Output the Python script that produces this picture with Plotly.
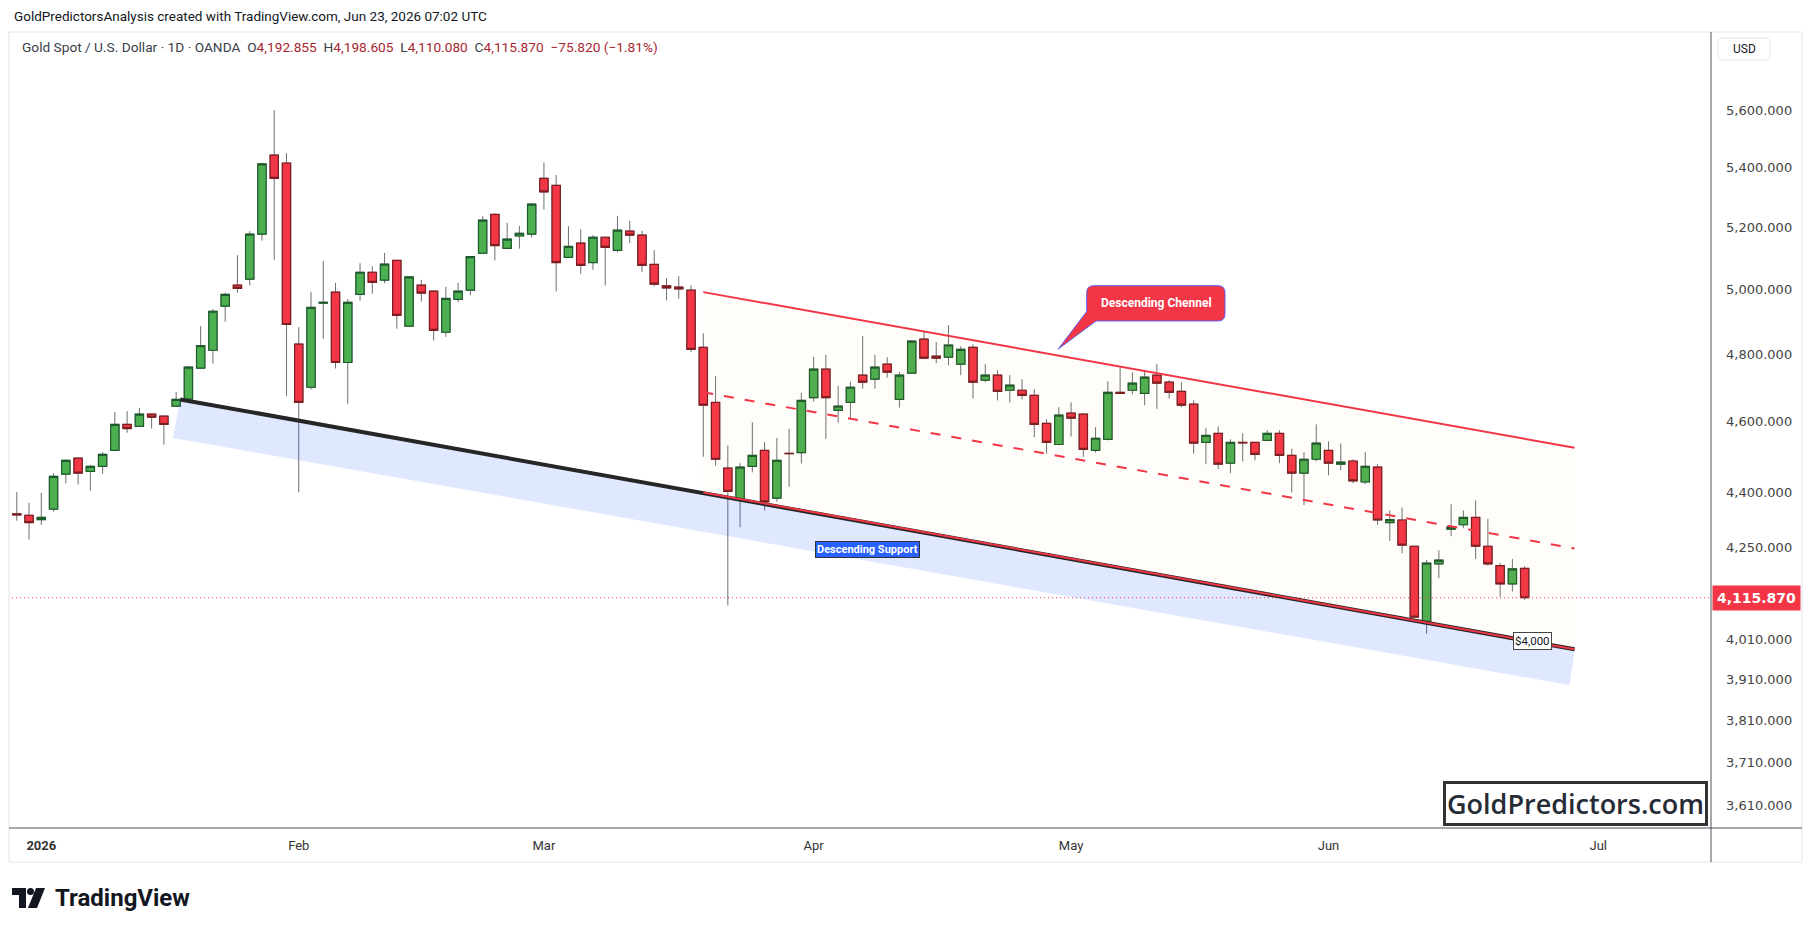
import numpy as np
import pandas as pd
import plotly.graph_objects as go

# ---------------- data ----------------
dates = pd.bdate_range("2025-12-30", "2026-06-23", freq="C",
                       holidays=["2026-01-01", "2026-04-03"])

open_ = [4340, 4336, 4324, 4353, 4450, 4495, 4458, 4472, 4517, 4592,
         4586, 4622, 4616, 4645, 4666, 4758, 4812, 4948, 5014, 5033,
         5178, 5443, 5416, 4831, 4701, 4957, 4992, 4775, 4985, 5055,
         5030, 5093, 4886, 5014, 4995, 4867, 4969, 4998, 5116, 5243,
         5132, 5172, 5178, 5364, 5340, 5103, 5149, 5086, 5168, 5125,
         5188, 5175, 5080, 5012, 5008, 4998, 4821, 4656, 4467, 4377,
         4472, 4517, 4383, 4509, 4511, 4670, 4755, 4633, 4656, 4737,
         4725, 4770, 4665, 4743, 4846, 4794, 4791, 4770, 4821, 4722,
         4737, 4692, 4692, 4677, 4595, 4534, 4625, 4622, 4517, 4549,
         4686, 4692, 4683, 4737, 4716, 4689, 4651, 4540, 4566, 4481,
         4540, 4540, 4546, 4566, 4503, 4453, 4492, 4517, 4478, 4487,
         4428, 4470, 4316, 4323, 4252, 4055, 4205, 4298, 4310, 4330,
         4252, 4200, 4152, 4192.855]
high = [4400, 4370, 4398, 4453, 4492, 4497, 4476, 4512, 4628, 4631,
        4640, 4623, 4617, 4687, 4765, 4886, 4939, 4990, 5110, 5188,
        5417, 5600, 5450, 4883, 4993, 5091, 5021, 4970, 5084, 5074,
        5117, 5094, 5043, 5031, 4998, 5009, 5021, 5106, 5237, 5246,
        5215, 5205, 5280, 5417, 5375, 5204, 5194, 5175, 5169, 5238,
        5222, 5189, 5126, 5036, 5043, 5014, 4864, 4734, 4531, 4481,
        4598, 4541, 4553, 4579, 4684, 4792, 4798, 4705, 4717, 4856,
        4798, 4791, 4746, 4843, 4871, 4837, 4889, 4824, 4830, 4770,
        4752, 4737, 4725, 4695, 4607, 4642, 4656, 4625, 4584, 4719,
        4761, 4746, 4749, 4771, 4722, 4716, 4662, 4581, 4586, 4549,
        4566, 4541, 4575, 4575, 4522, 4512, 4592, 4543, 4537, 4492,
        4512, 4478, 4349, 4357, 4253, 4215, 4241, 4366, 4349, 4377,
        4326, 4207, 4218, 4198.605]
low = [4321, 4270, 4309, 4346, 4424, 4421, 4404, 4451, 4516, 4568,
       4586, 4580, 4533, 4644, 4658, 4755, 4772, 4900, 4990, 5013,
       5157, 5095, 4675, 4399, 4694, 4847, 4757, 4652, 4965, 4987,
       5020, 4878, 4886, 4962, 4842, 4853, 4960, 4982, 5115, 5093,
       5129, 5131, 5167, 5259, 4994, 5103, 5050, 5063, 5013, 5119,
       5149, 5055, 5010, 4966, 4971, 4806, 4499, 4474, 4096, 4303,
       4455, 4349, 4373, 4415, 4480, 4659, 4550, 4597, 4606, 4697,
       4697, 4730, 4641, 4743, 4785, 4773, 4767, 4737, 4668, 4716,
       4662, 4656, 4665, 4555, 4508, 4534, 4557, 4499, 4511, 4546,
       4683, 4680, 4648, 4637, 4668, 4642, 4508, 4478, 4464, 4453,
       4486, 4489, 4545, 4481, 4399, 4364, 4486, 4447, 4461, 4425,
       4422, 4310, 4266, 4233, 4066, 4023, 4167, 4279, 4301, 4218,
       4200, 4119, 4132, 4110.080]
close = [4337, 4316, 4330, 4444, 4489, 4453, 4472, 4506, 4592, 4580,
         4622, 4613, 4592, 4665, 4761, 4826, 4932, 4985, 5004, 5178,
         5413, 5364, 4891, 4656, 4944, 4960, 4775, 4960, 5055, 5023,
         5081, 4919, 5040, 4989, 4873, 4972, 4995, 5105, 5224, 5141,
         5162, 5181, 5277, 5318, 5086, 5138, 5077, 5168, 5135, 5191,
         5175, 5077, 5017, 5005, 5002, 4815, 4648, 4492, 4402, 4470,
         4503, 4373, 4489, 4508, 4662, 4755, 4670, 4645, 4701, 4716,
         4761, 4746, 4737, 4840, 4788, 4788, 4828, 4815, 4716, 4737,
         4689, 4707, 4677, 4592, 4540, 4619, 4610, 4520, 4552, 4686,
         4683, 4713, 4731, 4713, 4686, 4648, 4538, 4560, 4478, 4540,
         4539, 4506, 4566, 4503, 4453, 4492, 4538, 4481, 4484, 4431,
         4472, 4323, 4324, 4255, 4066, 4207, 4215, 4304, 4330, 4252,
         4205, 4152, 4191.690, 4115.870]

# drawings (anchor times placed on the bar grid, prices in USD)
support_x = ["2026-01-19 19:55", "2026-06-29 13:41"]
support_y = [4665, 3984]
band_x = ["2026-01-19 19:55", "2026-06-29 13:41", "2026-06-29 04:05", "2026-01-19 05:31"]
band_y = [4665, 3984, 3895, 4553]
channel_x = ["2026-03-19 12:00", "2026-06-29 13:41"]
channel_top = [4992, 4525]
channel_mid = [4686, 4246]
channel_bot = [4399, 3984]

month_ticks = ["2026-01-02", "2026-02-02", "2026-03-02", "2026-04-01",
               "2026-05-01", "2026-06-01", "2026-07-01"]
month_labels = ["<b>2026</b>", "Feb", "Mar", "Apr", "May", "Jun", "Jul"]
price_ticks = [5600, 5400, 5200, 5000, 4800, 4600, 4400, 4250, 4010,
               3910, 3810, 3710, 3610]
x_view = ["2025-12-30 02:38", "2026-07-14 16:48"]
y_view = [3559, 5883]

# ---------------- style ----------------
UP, UP_EDGE = "#4CAF50", "#1E5B2C"
DN, DN_EDGE = "#F23645", "#7C1C23"
WICK = "#6F6F73"
RED = "#F23645"
TXT = "#131722"

half = pd.Timedelta(hours=12)
bar_x = dates + half
assert len(bar_x) == len(open_) == len(high) == len(low) == len(close)

# pixel frame of the plot area (for paper-positioned labels)
PL, PR, PT, PB = 12, 1711, 32, 828
def fx(x):
    return (x - PL) / (PR - PL)
def fy(y):
    return (PB - y) / (PB - PT)

fig = go.Figure()

# blue support band
fig.add_trace(go.Scatter(x=band_x, y=band_y, fill="toself", mode="lines",
                         fillcolor="rgba(41,98,255,0.15)", line=dict(width=0),
                         hoverinfo="skip"))
# channel fill
fig.add_trace(go.Scatter(x=channel_x + channel_x[::-1],
                         y=channel_top + channel_bot[::-1], fill="toself",
                         mode="lines", fillcolor="rgba(255,180,60,0.025)",
                         line=dict(width=0), hoverinfo="skip"))
# last price dotted line
fig.add_trace(go.Scatter(x=x_view, y=[close[-1], close[-1]], mode="lines",
                         line=dict(color=RED, width=1, dash="1px,3px"),
                         hoverinfo="skip"))

# candles: wicks then bodies
fig.add_trace(go.Candlestick(
    x=bar_x, open=open_, high=high, low=low, close=close,
    increasing=dict(line=dict(color=WICK, width=1), fillcolor=UP),
    decreasing=dict(line=dict(color=WICK, width=1), fillcolor=DN),
    hoverinfo="skip"))
body_hi = np.maximum(open_, close)
body_lo = np.minimum(open_, close)
fig.add_trace(go.Candlestick(
    x=bar_x, open=open_, high=body_hi, low=body_lo, close=close,
    increasing=dict(line=dict(color=UP_EDGE, width=1.2), fillcolor=UP),
    decreasing=dict(line=dict(color=DN_EDGE, width=1.2), fillcolor=DN),
    hoverinfo="skip"))

# support line and channel lines
fig.add_trace(go.Scatter(x=support_x, y=support_y, mode="lines",
                         line=dict(color="#262626", width=4), hoverinfo="skip"))
fig.add_trace(go.Scatter(x=channel_x, y=channel_bot, mode="lines",
                         line=dict(color=RED, width=2), hoverinfo="skip"))
fig.add_trace(go.Scatter(x=channel_x, y=channel_top, mode="lines",
                         line=dict(color=RED, width=2), hoverinfo="skip"))
fig.add_trace(go.Scatter(x=channel_x, y=channel_mid, mode="lines",
                         line=dict(color=RED, width=2, dash="10px,11px"),
                         hoverinfo="skip"))

# ---------------- frame shapes ----------------
shapes = [
    dict(type="rect", xref="paper", yref="paper", x0=fx(9), x1=fx(1802),
         y0=fy(862), y1=fy(32), line=dict(color="#E0E3EB", width=1)),
    dict(type="line", xref="paper", yref="paper", x0=fx(9), x1=fx(1802),
         y0=0, y1=0, line=dict(color="#50535E", width=1)),
    dict(type="line", xref="paper", yref="paper", x0=1, x1=1,
         y0=fy(862), y1=fy(32), line=dict(color="#50535E", width=1)),
]


def rounded(x0, y0, x1, y1, r, tail=None):
    pts = [("M", x0 + r, y0), ("L", x1 - r, y0), ("Q", x1, y0, x1, y0 + r),
           ("L", x1, y1 - r), ("Q", x1, y1, x1 - r, y1)]
    if tail:
        pts += [("L", tail[0][0], tail[0][1]), ("L", tail[1][0], tail[1][1]),
                ("L", tail[2][0], tail[2][1])]
    else:
        pts += [("L", x0 + r, y1), ("Q", x0, y1, x0, y1 - r)]
    pts += [("L", x0, y0 + r), ("Q", x0, y0, x0 + r, y0)]
    s = ""
    for p in pts:
        if p[0] == "Q":
            s += f"Q{fx(p[1]):.6f},{fy(p[2]):.6f} {fx(p[3]):.6f},{fy(p[4]):.6f} "
        else:
            s += f"{p[0]}{fx(p[1]):.6f},{fy(p[2]):.6f} "
    return s + "Z"


# callout bubble "Descending Chennel"
shapes.append(dict(type="path", xref="paper", yref="paper",
                   path=rounded(1086.7, 285.7, 1225.0, 321.0, 7,
                                tail=[(1096.0, 321.0), (1058.3, 349.0), (1086.7, 311.5)]),
                   fillcolor=RED, line=dict(color="#5B5FEF", width=1)))
# USD box
shapes.append(dict(type="path", xref="paper", yref="paper",
                   path=rounded(1718, 38, 1770, 60, 5),
                   fillcolor="white", line=dict(color="#E0E3EB", width=1)))


# TradingView logo glyph
def poly(points):
    return "M" + " L".join(f"{fx(a):.6f},{fy(b):.6f}" for a, b in points) + " Z"


shapes.append(dict(type="path", xref="paper", yref="paper",
                   path=poly([(12, 888), (26, 888), (26, 908), (19, 908), (19, 895), (12, 895)]),
                   fillcolor=TXT, line=dict(width=0)))
shapes.append(dict(type="circle", xref="paper", yref="paper",
                   x0=fx(27), x1=fx(34), y0=fy(895), y1=fy(888),
                   fillcolor=TXT, line=dict(width=0)))
shapes.append(dict(type="path", xref="paper", yref="paper",
                   path=poly([(36, 888), (45, 888), (37, 908), (28, 908)]),
                   fillcolor=TXT, line=dict(width=0)))

# ---------------- annotations ----------------
o, h, l, c = open_[-1], high[-1], low[-1], close[-1]
chg = c - close[-2]
pct = chg / close[-2] * 100
VC = "#A8262F"


def v(s):
    return f"<span style='color:{VC}'>{s}</span>"


sp = "\u00a0\u00a0"
legend_txt = ("Gold Spot / U.S. Dollar · 1D · OANDA" + sp + "O" + v(f"{o:,.3f}") +
              sp + "H" + v(f"{h:,.3f}") + sp + "L" + v(f"{l:,.3f}") +
              sp + "C" + v(f"{c:,.3f}") + sp +
              v(f"\u2212{abs(chg):.3f} (\u2212{abs(pct):.2f}%)"))

ann = [
    dict(text="GoldPredictorsAnalysis created with TradingView.com, Jun 23, 2026 07:02 UTC",
         x=fx(12), y=fy(16), xanchor="left", yanchor="middle",
         font=dict(size=13.5, color=TXT)),
    dict(text=legend_txt, x=fx(20), y=fy(47.5), xanchor="left", yanchor="middle",
         font=dict(size=13.7, color="#3A3E4A")),
    dict(text="<b>Descending Chennel</b>", x=fx(1156), y=fy(303.3),
         xanchor="center", yanchor="middle", font=dict(size=12, color="white")),
    dict(text="<b>Descending Support</b>", x=fx(867), y=fy(549.5),
         xanchor="center", yanchor="middle", font=dict(size=11, color="white"),
         bgcolor="#2962FF", bordercolor="#333333", borderwidth=1, borderpad=1),
    dict(text="$4,000", x=fx(1532.5), y=fy(641.3), xanchor="center",
         yanchor="middle", font=dict(size=11.5, color=TXT), bgcolor="white",
         bordercolor="#444444", borderwidth=1, borderpad=1),
    dict(text="GoldPredictors.com", x=fx(1575.3), y=fy(803.8), xanchor="center",
         yanchor="middle",
         font=dict(size=27, color="#262B36", family="Open Sans", weight=600),
         bgcolor="white", bordercolor="#333333", borderwidth=3, borderpad=1),
    dict(text=f"<b>{c:,.3f}</b>", x=fx(1712), y=np.log10(c), yref="y",
         xanchor="left", yanchor="middle",
         font=dict(size=14, color="white", family="DejaVu Sans"),
         bgcolor=RED, borderpad=4),
    dict(text="USD", x=fx(1744), y=fy(49), xanchor="center", yanchor="middle",
         font=dict(size=12, color=TXT)),
    dict(text="<b>TradingView</b>", x=fx(53), y=fy(898), xanchor="left",
         yanchor="middle", font=dict(size=24, color=TXT)),
]
for a in ann:
    a.setdefault("xref", "paper")
    a.setdefault("yref", "paper")
    a["showarrow"] = False

fig.update_layout(
    width=1814, height=932,
    margin=dict(l=PL, r=1814 - PR, t=PT, b=932 - PB),
    paper_bgcolor="white", plot_bgcolor="white",
    showlegend=False, boxgap=0.32, boxgroupgap=0,
    font=dict(family="Roboto", color=TXT),
    xaxis=dict(type="date", range=x_view,
               rangebreaks=[dict(bounds=["sat", "mon"]),
                            dict(values=["2026-01-01", "2026-04-03"])],
               rangeslider=dict(visible=False), showgrid=False, zeroline=False,
               showline=False, ticks="",
               tickvals=[pd.Timestamp(d) + half for d in month_ticks],
               ticktext=month_labels, ticklabelstandoff=8,
               tickfont=dict(size=13, color="#333333", family="Roboto")),
    yaxis=dict(type="log", range=[np.log10(y_view[0]), np.log10(y_view[1])],
               side="right", showgrid=False, zeroline=False, showline=False,
               ticks="", tickvals=price_ticks,
               ticktext=[f"{t:,.3f}" for t in price_ticks], ticklabelstandoff=14,
               tickfont=dict(size=13, color="#444444", family="DejaVu Sans")),
    shapes=shapes, annotations=ann,
)

fig.write_html("out.html")
